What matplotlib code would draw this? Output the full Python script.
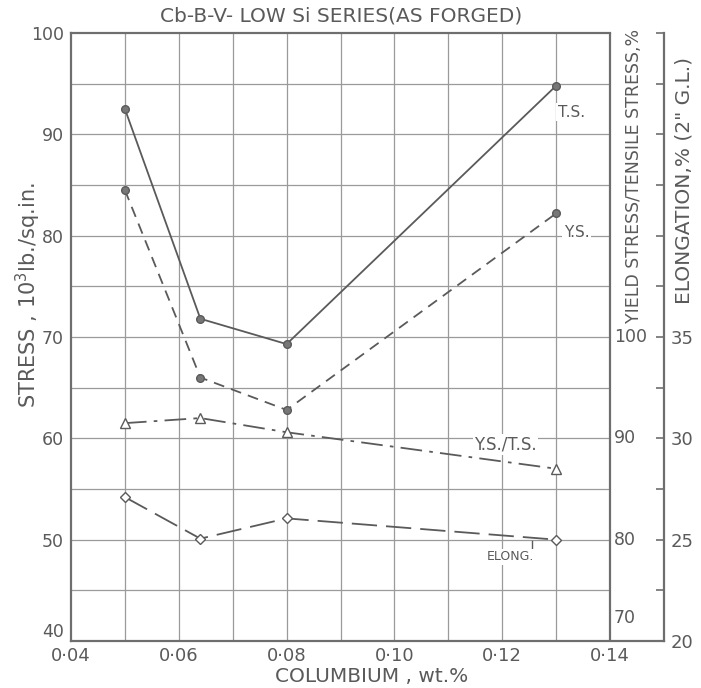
import matplotlib.pyplot as plt
import numpy as np

# data
columbium = [0.05, 0.064, 0.08, 0.13]
tensile = [92.5, 71.8, 69.3, 94.8]          # 10^3 lb/sq.in
yield_s = [84.5, 66.0, 62.8, 82.2]          # 10^3 lb/sq.in
ys_ts = [91.5, 92.0, 90.6, 87.0]            # %
elong = [27.1, 25.05, 26.05, 25.0]          # %, 2" G.L.

x_ticks = [0.04, 0.06, 0.08, 0.10, 0.12, 0.14]
x_labels = ["0·04", "0·06", "0·08", "0·10", "0·12", "0·14"]
stress_ticks = [40, 50, 60, 70, 80, 90, 100]
ratio_ticks = [70, 80, 90, 100]
elong_ticks = [20, 25, 30, 35]

ink = "#5a5a5a"
grid = "#9a9a9a"
frame = "#6e6e6e"

fig = plt.figure(figsize=(7.01, 6.88), dpi=100)
ax = fig.add_axes([71/701, 1-641/688, (664-71)/701, (641-33)/688])

ax.set_xlim(0.04, 0.15)
ax.set_ylim(40, 100)

# grid, stops at 0.14
ax.hlines(np.arange(45, 100, 5), 0.04, 0.14, color=grid, lw=0.9, zorder=0)
ax.vlines(np.arange(0.05, 0.135, 0.01), 40, 100, color=grid, lw=0.9, zorder=0)
ax.vlines(0.14, 40, 100, color=frame, lw=1.6, zorder=1)

for s in ["left", "bottom", "top", "right"]:
    ax.spines[s].set_color(frame)
    ax.spines[s].set_linewidth(1.6)
ax.spines["top"].set_bounds(0.04, 0.14)
ax.spines["right"].set_visible(False)

ax.set_xticks(x_ticks)
ax.set_xticklabels(x_labels)
ax.set_yticks(stress_ticks)
ax.tick_params(length=0, colors=ink, labelsize=12.5, pad=5)
ax.tick_params(axis="x", labelsize=13, pad=4)
ax.get_yticklabels()[0].set_verticalalignment("bottom")  # "40" sits above the corner

# elongation axis on the far right
ax3 = ax.twinx()
ax3.set_ylim(20, 50)
for s in ["left", "bottom", "top"]:
    ax3.spines[s].set_visible(False)
ax3.spines["right"].set_color(frame)
ax3.spines["right"].set_linewidth(1.6)
etick = np.arange(20, 50.1, 2.5)
ax3.set_yticks(etick)
ax3.set_yticklabels([str(int(v)) if v in elong_ticks else "" for v in etick])
ax3.tick_params(axis="y", direction="in", length=6, width=1.2, color=frame,
                colors=ink, labelsize=13, pad=5)

# YS/TS scale sitting on the 0.14 line (ratio = stress + 30)
ax2 = ax.twinx()
ax2.set_ylim(70, 130)
ax2.axis("off")
for v in ratio_ticks:
    ax2.text(0.1407, v + (1.4 if v == 70 else 0), str(v), color=ink, fontsize=12.5,
             ha="left", va="bottom" if v == 70 else "center")

# curves
ax.plot(columbium, tensile, color=ink, lw=1.3, marker="o", ms=5.5,
        mfc="#777777", mec=ink, zorder=3)
ax.plot(columbium, yield_s, color=ink, lw=1.3, ls=(0, (6, 4)), marker="o", ms=5.5,
        mfc="#777777", mec=ink, zorder=3)
ax2.plot(columbium, ys_ts, color=ink, lw=1.3, ls=(0, (12, 4, 2, 4)), marker="^", ms=7,
         mfc="white", mec=ink, zorder=3)
ax3.plot(columbium, elong, color=ink, lw=1.3, ls=(0, (14, 5)), marker="D", ms=5,
         mfc="white", mec=ink, zorder=3)

# curve labels
ax.text(0.1328, 92.2, "T.S.", color=ink, fontsize=11, ha="center", va="center",
        bbox=dict(fc="white", ec="none", pad=1))
ax.text(0.1338, 80.3, "Y.S.", color=ink, fontsize=11, ha="center", va="center",
        bbox=dict(fc="white", ec="none", pad=1))
ax.text(0.1206, 59.4, "Y.S./T.S.", color=ink, fontsize=12, ha="center", va="center",
        bbox=dict(fc="white", ec="none", pad=1))
ax.text(0.1215, 48.3, "ELONG.", color=ink, fontsize=9, ha="center", va="center",
        bbox=dict(fc="white", ec="none", pad=1))
ax.plot([0.1255, 0.1255], [49.9, 49.0], color=ink, lw=1.0)

# titles and axis names
fig.text(341/701, 1-16/688, "Cb-B-V- LOW Si SERIES(AS FORGED)", color=ink,
         fontsize=14.5, ha="center", va="center")
fig.text(372/701, 1-676/688, "COLUMBIUM , wt.%", color=ink, fontsize=14.5,
         ha="center", va="center")
fig.text(28/701, 1-295/688, "STRESS , 10$^3$lb./sq.in.", color=ink, fontsize=15,
         rotation=90, ha="center", va="center")
fig.text(634/701, 1-176/688, "YIELD STRESS/TENSILE STRESS,%", color=ink, fontsize=12.5,
         family=["Liberation Sans Narrow", "DejaVu Sans"],
         rotation=90, ha="center", va="center")
fig.text(684/701, 1-180/688, "ELONGATION,% (2\" G.L.)", color=ink, fontsize=14.5,
         rotation=90, ha="center", va="center")

fig.savefig("out.png", dpi=100)
